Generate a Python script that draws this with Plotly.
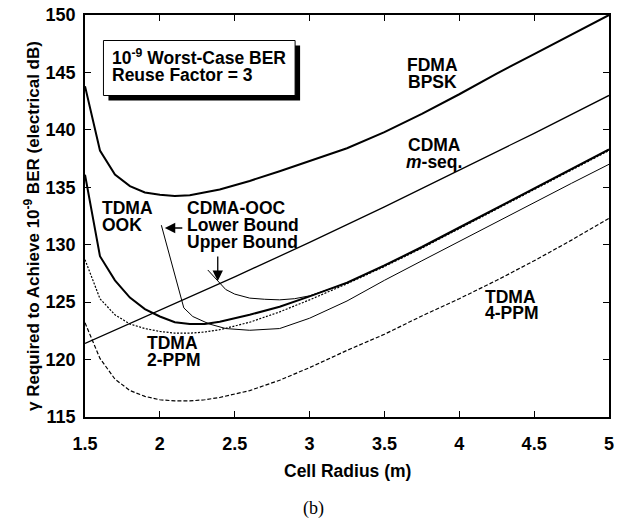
import plotly.graph_objects as go

# ---------------- data ----------------
x_fdma = [1.5, 1.6, 1.7, 1.8, 1.9, 2.0, 2.1, 2.2, 2.4, 2.6, 2.8, 3.0, 3.25, 3.5, 3.75, 4.0, 4.25, 4.5, 4.75, 5.0]
y_fdma = [143.8, 138.2, 136.1, 135.1, 134.55, 134.35, 134.25, 134.3, 134.8, 135.55, 136.4, 137.3, 138.4, 139.8, 141.4, 143.1, 144.9, 146.6, 148.3, 150.0]

x_mseq = [1.5, 2.0, 2.5, 3.0, 3.5, 4.0, 4.5, 5.0]
y_mseq = [121.4, 124.3, 127.2, 130.2, 133.3, 136.5, 139.7, 143.0]

x_ook = [1.5, 1.6, 1.7, 1.8, 1.9, 2.0, 2.1, 2.2, 2.3, 2.4, 2.6, 2.8, 3.0, 3.25, 3.5, 3.75, 4.0, 4.25, 4.5, 4.75, 5.0]
y_ook = [136.1, 129.0, 126.9, 125.4, 124.4, 123.75, 123.25, 123.1, 123.1, 123.3, 123.9, 124.6, 125.5, 126.7, 128.2, 129.8, 131.5, 133.2, 134.9, 136.6, 138.3]

x_ppm2 = [1.5, 1.6, 1.7, 1.8, 1.9, 2.0, 2.1, 2.2, 2.3, 2.4, 2.6, 2.8, 3.0, 3.25, 3.5, 3.75, 4.0, 4.25, 4.5, 4.75, 5.0]
y_ppm2 = [128.7, 125.3, 123.9, 123.1, 122.7, 122.45, 122.3, 122.3, 122.4, 122.6, 123.25, 124.15, 125.2, 126.6, 128.1, 129.7, 131.4, 133.1, 134.8, 136.5, 138.2]

x_ppm4 = [1.5, 1.6, 1.7, 1.8, 1.9, 2.0, 2.1, 2.2, 2.3, 2.4, 2.6, 2.8, 3.0, 3.25, 3.5, 3.75, 4.0, 4.25, 4.5, 4.75, 5.0]
y_ppm4 = [123.2, 120.1, 118.3, 117.3, 116.8, 116.5, 116.4, 116.4, 116.5, 116.7, 117.3, 118.2, 119.3, 120.8, 122.2, 123.8, 125.3, 126.9, 128.6, 130.4, 132.3]

x_ooc_lower = [2.01, 2.16, 2.22, 2.33, 2.44, 2.6, 2.8, 3.0, 3.25, 3.5, 3.75, 4.0, 4.25, 4.5, 4.75, 5.0]
y_ooc_lower = [131.7, 124.5, 123.75, 123.1, 122.7, 122.55, 122.7, 123.6, 125.1, 126.9, 128.6, 130.3, 132.0, 133.7, 135.35, 137.0]

x_ooc_upper = [2.32, 2.44, 2.5, 2.6, 2.7, 2.8, 2.9, 3.0, 3.25, 3.5, 3.75, 4.0, 4.25, 4.5, 4.75, 5.0]
y_ooc_upper = [127.8, 126.1, 125.7, 125.35, 125.25, 125.2, 125.3, 125.55, 126.65, 128.15, 129.75, 131.45, 133.15, 134.85, 136.55, 138.25]

x_ticks = [1.5, 2, 2.5, 3, 3.5, 4, 4.5, 5]
x_tick_labels = ["1.5", "2", "2.5", "3", "3.5", "4", "4.5", "5"]
y_ticks = [115, 120, 125, 130, 135, 140, 145, 150]
y_tick_labels = ["115", "120", "125", "130", "135", "140", "145", "150"]

# ---------------- figure ----------------
FONT = "Liberation Sans, Arial, Helvetica, sans-serif"
fig = go.Figure()


def add(x, y, width, dash="solid"):
    fig.add_trace(go.Scatter(x=x, y=y, mode="lines",
                             line=dict(color="black", width=width, dash=dash),
                             showlegend=False, hoverinfo="skip"))


add(x_fdma, y_fdma, 2.0)
add(x_mseq, y_mseq, 1.3)
add(x_ooc_lower, y_ooc_lower, 1.0)
add(x_ooc_upper, y_ooc_upper, 1.0)
add(x_ppm2, y_ppm2, 1.2, "2px,1.5px")
add(x_ppm4, y_ppm4, 1.2, "4px,2px")
add(x_ook, y_ook, 2.0)


# pixel -> data helpers for placing labels
def dx(px):
    return 1.5 + (px - 85) / 150.0


def dy(py):
    return 150 - (py - 15) / (402.0 / 35.0)


shapes = [
    dict(type="rect", xref="x", yref="y", x0=dx(108.5), x1=dx(300.5), y0=dy(45.5), y1=dy(100.5),
         fillcolor="black", line=dict(width=0), layer="above"),
    dict(type="rect", xref="x", yref="y", x0=dx(103.5), x1=dx(295.5), y0=dy(40.5), y1=dy(95.5),
         fillcolor="white", line=dict(color="black", width=1), layer="above"),
]

annotations = []
LS = 17.5


def label(text, px, py, anchor="left", size=LS):
    annotations.append(dict(text="<b>%s</b>" % text, x=dx(px), y=dy(py - 2.5), xref="x", yref="y",
                            xanchor=anchor, yanchor="middle", showarrow=False,
                            font=dict(family=FONT, size=size, color="black")))


label("10<sup>-9</sup> Worst-Case BER", 110, 59)
label("Reuse Factor = 3", 110, 77)
label("FDMA", 433, 67, "center")
label("BPSK", 433, 84, "center")
label("CDMA", 435, 147, "center")
label("<i>m</i>-seq.", 435, 164, "center")
label("TDMA", 100, 210)
label("OOK", 100, 227)
label("CDMA-OOC", 185, 210)
label("Lower Bound", 185, 227)
label("Upper Bound", 185, 244)
label("TDMA", 145, 345)
label("2-PPM", 145, 362)
label("TDMA", 484, 299)
label("4-PPM", 484, 315)

# arrows
annotations.append(dict(x=dx(165), y=dy(228), ax=dx(184), ay=dy(228), xref="x", yref="y",
                        axref="x", ayref="y", text="", showarrow=True, arrowhead=2,
                        arrowsize=1.6, arrowwidth=1.3, arrowcolor="black"))
annotations.append(dict(x=dx(218), y=dy(281), ax=dx(218), ay=dy(255), xref="x", yref="y",
                        axref="x", ayref="y", text="", showarrow=True, arrowhead=2,
                        arrowsize=1.6, arrowwidth=1.3, arrowcolor="black"))

# axis titles & caption
annotations.append(dict(text="<b>γ Required to Achieve 10<sup>-9</sup> BER (electrical dB)</b>",
                        x=(32 - 85) / 524.0, y=(417 - 226) / 402.0, xref="paper", yref="paper",
                        xanchor="center", yanchor="middle", textangle=-90, showarrow=False,
                        font=dict(family=FONT, size=17, color="black")))
annotations.append(dict(text="<b>Cell Radius (m)</b>", x=(347 - 85) / 524.0, y=(417 - 471) / 402.0,
                        xref="paper", yref="paper", xanchor="center", yanchor="middle",
                        showarrow=False, font=dict(family=FONT, size=17.5, color="black")))
annotations.append(dict(text="(b)", x=(313 - 85) / 524.0, y=(417 - 508) / 402.0,
                        xref="paper", yref="paper", xanchor="center", yanchor="middle",
                        showarrow=False,
                        font=dict(family="Liberation Serif, Times New Roman, serif", size=18, color="black")))

axis_common = dict(showline=True, linecolor="black", linewidth=1.5, mirror="ticks",
                   ticks="inside", ticklen=6, tickwidth=1.2, tickcolor="black",
                   showgrid=False, zeroline=False, automargin=False,
                   tickfont=dict(family=FONT, size=18, color="black"))

fig.update_layout(
    width=620, height=522,
    margin=dict(l=85, r=11, t=15, b=105, autoexpand=False),
    paper_bgcolor="white", plot_bgcolor="white",
    shapes=shapes, annotations=annotations,
    xaxis=dict(range=[1.5, 5], tickvals=x_ticks,
               ticktext=["<b>%s</b>" % t for t in x_tick_labels],
               ticklabelstandoff=10, **axis_common),
    yaxis=dict(range=[115, 150], tickvals=y_ticks,
               ticktext=["<b>%s</b>" % t for t in y_tick_labels],
               ticklabelstandoff=4, **axis_common),
)

fig.write_html("out.html", config={"displayModeBar": False},
               post_script="document.body.style.margin='0px';document.body.style.padding='0px';")
